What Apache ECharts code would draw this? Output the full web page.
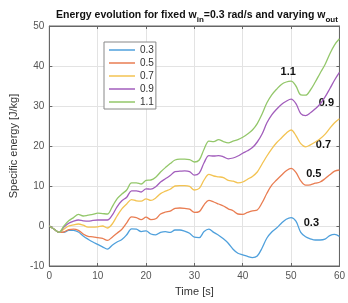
<!DOCTYPE html>
<html><head><meta charset="utf-8">
<script src="https://cdn.jsdelivr.net/npm/echarts@6/dist/echarts.min.js"></script>
<style>html,body{margin:0;padding:0;background:#fff}#c{width:348px;height:303px}</style>
</head><body><div id="c"></div>
<script>
const times = [0,1,2,3,4,5,6,7,8,9,10,11,12,13,14,15,16,17,18,19,20,21,22,23,24,25,26,27,28,29,30,31,32,33,34,35,36,37,38,39,40,41,42,43,44,45,46,47,48,49,50,51,52,53,54,55,56,57,58,59,60];
const seriesNames = ['0.3','0.5','0.7','0.9','1.1'];
const e03 = [0,-0.8,-1.6,-1.6,-1.1,-1.1,-1.5,-2.5,-3.3,-4,-4.6,-5.2,-5.8,-4.8,-4,-3.4,-2.2,-0.7,-0.8,-1.4,-1.2,-2,-2.2,-1.6,-1.4,-1.6,-1,-1,-1.3,-1.8,-2.8,-2.9,-1.4,-0.8,-1.6,-2.3,-3.2,-4.3,-5.8,-6.8,-7.2,-7.6,-7.9,-7.5,-5.5,-3,-1.5,-0.5,0.7,1.7,2.1,1.2,-1.6,-2.7,-3.2,-3.5,-3.5,-3.3,-2.4,-2.1,-2.6];
const e05 = [0,-0.8,-1.6,-1.5,-0.9,-0.8,-1.1,-2,-2.6,-2.7,-2.9,-3.1,-3.6,-2.8,-1.8,-0.8,0.8,2.3,2.1,1.6,2.2,1.6,1.8,3,3.5,3.7,4.4,4.5,4.4,4.2,3.4,3.6,5.3,6.4,6,5.5,5,4.3,3.8,3,2.9,3.4,3.8,4,5.8,8.2,10.2,11.5,12.7,13.8,14.4,13.4,11.3,10.2,10.3,10.7,11,11.8,12.8,13.7,14];
const e07 = [0,-0.8,-1.6,-0.8,0,0.3,0.5,0.2,-0.3,-0.3,-0.2,0,-0.5,0.5,2.5,4.3,5.5,6.6,6.3,6.2,6.8,6.4,7,8.1,8.7,9.2,10,10.1,10.1,9.9,9,9.4,11.5,12.9,12.5,12.3,12.1,11.4,11.2,10.8,11,11.7,12.4,13.5,15.5,17.5,19.3,20.8,22,23.2,24,22.6,20.6,19.8,20.3,21,21.8,22.9,24.4,25.8,26.8];
const e09 = [0,-0.8,-1.6,-0.3,0.7,1.2,1.5,1.3,1.2,1.4,1.5,1.5,1.5,2.7,4.8,6.3,7.2,8.8,8.8,8.5,9.3,9.2,9.8,11,11.8,12.6,13.6,13.7,13.8,13.6,12.7,13.2,15.8,17.6,17.5,17.6,17.3,16.8,17,17.5,18.2,18.8,19.6,21,23,25.8,27.8,29.2,30.4,31.2,31.7,30.6,28.1,27.6,28.3,29.3,30.5,32.2,34.3,36.5,38.4];
const e11 = [0,-0.8,-1.6,0,1.3,2.1,2.9,2.5,2.7,2.9,3.2,3.1,3,4.8,6.8,8,9,10.8,10.8,10.5,11.4,11.5,12.2,13.5,14.6,15.6,16.5,16.7,16.7,16.6,16,16.5,19.2,21.2,21.1,21.6,21.1,20.8,21.2,21.6,22.2,23,24,25.6,28,30.8,32.8,34.2,35.4,36,36.2,35,32.8,32.7,34,36,38.2,40.3,43,45.3,46.8];
const labelPos = [[54.2,0.7],[54.7,12.9],[56.7,20.25],[57.3,30.7],[49.4,38.6]];
const xTicks = [0,10,20,30,40,50,60];
const yTicks = [-10,0,10,20,30,40,50];

const colors = ['#4FA0DC','#E97D52','#F3C352','#A25EBC','#93C76A'];
const all = [e03,e05,e07,e09,e11];
const series = all.map((d,i)=>({
  name: seriesNames[i], type:'line', data: times.map((t,j)=>[t,d[j]]),
  showSymbol:false, symbol:'none', smooth:0.35, lineStyle:{width:1.3,color:colors[i]}, itemStyle:{color:colors[i]},
  z: 3+i,
  markPoint:{symbol:'circle', symbolSize:0, silent:true,
    data:[{coord:labelPos[i], value:seriesNames[i]}],
    label:{show:true, position:'inside', formatter:seriesNames[i], color:'#111', fontWeight:'bold', fontSize:11, fontFamily:'Liberation Sans'}}
}));
const axisGray = '#666';
const chart = echarts.init(document.getElementById('c'), null, {renderer:'canvas'});
chart.setOption({
  animation:false,
  backgroundColor:'#fff',
  title:{text:'{a|Energy evolution for fixed w}{s|in}{a|=0.3 rad/s and varying w}{s|out}', left:192, textAlign:'center', top:2,
    textStyle:{rich:{a:{fontSize:10.5,fontWeight:'bold',color:'#111',fontFamily:'Liberation Sans',lineHeight:17,verticalAlign:'middle'},
                     s:{fontSize:8,fontWeight:'bold',color:'#111',fontFamily:'Liberation Sans',lineHeight:17,verticalAlign:'bottom'}}}},
  grid:{left:39.5,right:4,top:26,bottom:37,show:true,borderColor:axisGray,borderWidth:1},
  legend:{orient:'vertical', left:104, top:42, backgroundColor:'#fff', borderColor:'#888', borderWidth:1,
    padding:[3,2,2,5], itemWidth:26, itemHeight:1.5, itemGap:3, icon:'rect',
    data: seriesNames.map((n,i)=>({name:n, icon:'rect', itemStyle:{color:colors[i]}})),
    textStyle:{fontSize:10,color:'#333',fontFamily:'Liberation Sans',lineHeight:8.5}},
  xAxis:[{type:'value', min:0, max:60, interval:10, name:'Time [s]', nameLocation:'middle', nameGap:20,
    nameTextStyle:{fontSize:11,color:'#333',fontFamily:'Liberation Sans'},
    axisLine:{show:true,onZero:false,lineStyle:{color:axisGray}}, axisTick:{show:true,inside:true,length:3,lineStyle:{color:axisGray}},
    axisLabel:{fontSize:10,color:'#555',margin:5,fontFamily:'Liberation Sans'},
    splitLine:{show:true,lineStyle:{color:'#e3e3e3',width:1}}},
   {type:'value', position:'top', min:0, max:60, interval:10, axisLine:{show:true,onZero:false,lineStyle:{color:axisGray}},
    axisTick:{show:true,inside:true,length:3,lineStyle:{color:axisGray}}, axisLabel:{show:false}, splitLine:{show:false}}],
  yAxis:[{type:'value', min:-10, max:50, interval:10, name:'Specific energy [J/kg]', nameLocation:'middle', nameGap:23,
    nameTextStyle:{fontSize:11,color:'#333',fontFamily:'Liberation Sans'},
    axisLine:{show:true,onZero:false,lineStyle:{color:axisGray}}, axisTick:{show:true,inside:true,length:3,lineStyle:{color:axisGray}},
    axisLabel:{fontSize:10,color:'#555',margin:5,fontFamily:'Liberation Sans'},
    splitLine:{show:true,lineStyle:{color:'#e3e3e3',width:1}}},
   {type:'value', position:'right', min:-10, max:50, interval:10, axisLine:{show:true,onZero:false,lineStyle:{color:axisGray}},
    axisTick:{show:true,inside:true,length:3,lineStyle:{color:axisGray}}, axisLabel:{show:false}, splitLine:{show:false}}],
  series: series
});
</script></body></html>
